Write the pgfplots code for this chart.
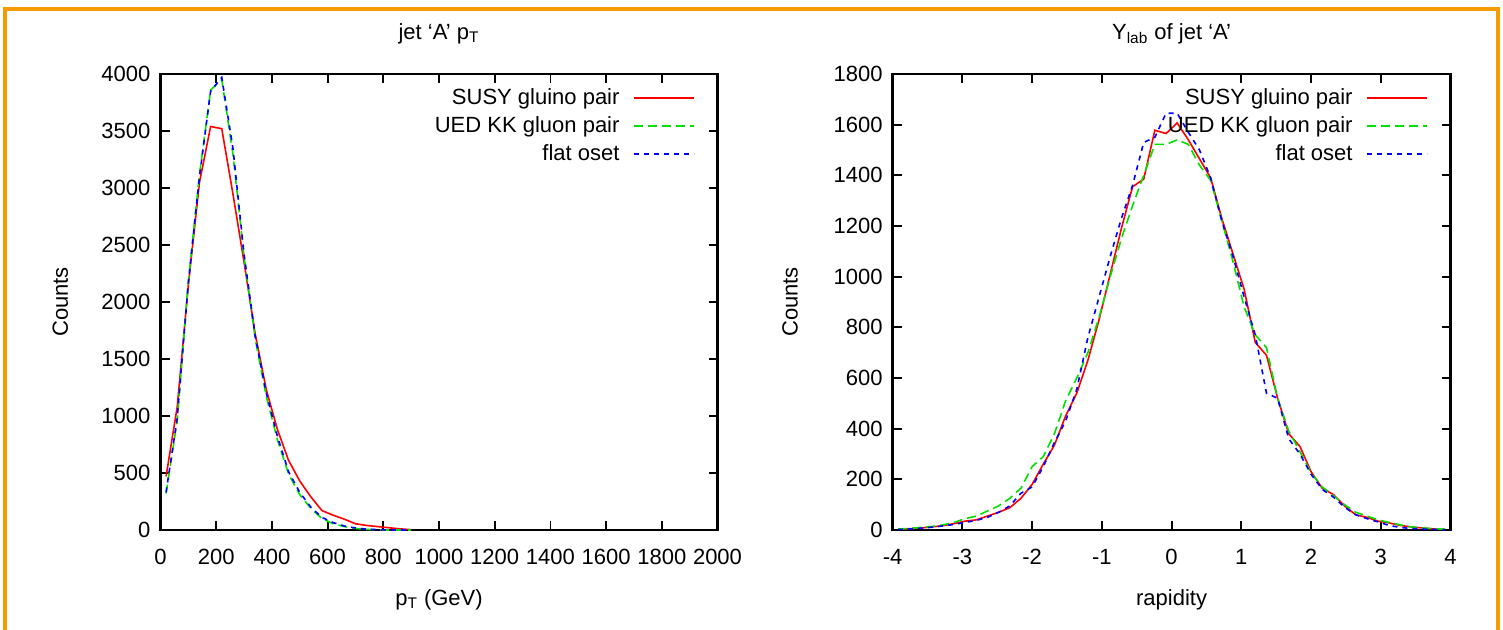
\documentclass[border=0pt]{standalone}
\usepackage{fontspec}
\setmainfont{Liberation Sans}
\usepackage{pgfplots}
\usepackage{pgfplotstable}
\pgfplotsset{compat=1.18}

\definecolor{gpred}{RGB}{255,0,0}
\definecolor{gpgreen}{RGB}{0,225,0}
\definecolor{gpblue}{RGB}{0,0,255}
\definecolor{frameorange}{RGB}{245,155,0}

% pT of jet A, 40 GeV bins
\pgfplotstableread{
pt   susy  ued   flat
20   470   320   330
60   1080  960   980
100  2150  2180  2170
140  3050  3120  3100
180  3540  3860  3850
220  3520  3950  3970
260  2950  3300  3350
300  2350  2400  2420
340  1720  1680  1700
380  1230  1170  1200
420  880   790   820
460  610   490   510
500  430   310   330
540  290   190   200
580  170   100   110
620  130   55    65
660  95    30    35
700  55    14    18
740  40    6     8
780  30    2     3
820  20    0     1
860  10    0     0
900  3     0     0
}\pttable

% rapidity of jet A
\pgfplotstableread{
y      susy  ued   flat
-3.92  3     4     2
-3.76  5     6     4
-3.60  8     10    7
-3.44  12    14    11
-3.28  17    20    16
-3.12  25    30    22
-2.96  35    45    30
-2.80  40    55    38
-2.64  55    75    50
-2.48  70    95    70
-2.32  88    125   95
-2.16  125   165   145
-2.00  180   250   170
-1.84  260   290   250
-1.68  335   380   345
-1.52  450   510   430
-1.36  540   600   555
-1.20  670   700   760
-1.04  830   840   920
-0.88  1010  1000  1080
-0.72  1190  1150  1230
-0.56  1355  1280  1360
-0.40  1385  1400  1530
-0.24  1578  1522  1550
-0.08  1565  1522  1645
0.08   1607  1540  1645
0.24   1540  1522  1570
0.40   1465  1440  1500
0.56   1390  1380  1390
0.72   1230  1220  1220
0.88   1090  1060  1080
1.04   950   880   920
1.20   740   770   770
1.36   690   720   540
1.52   520   520   520
1.68   380   390   360
1.84   330   310   300
2.00   230   225   220
2.16   165   170   160
2.32   140   135   130
2.48   95    100   90
2.64   60    70    60
2.80   50    55    45
2.96   35    40    32
3.12   28    30    18
3.28   18    20    10
3.44   12    12    6
3.60   8     8     4
3.76   4     5     2
3.92   2     3     1
}\raptable

\pgfplotsset{
  gnu/.style={
    scale only axis, anchor=south west,
    font=\fontsize{11}{13}\selectfont,
    /pgf/number format/assume math mode=true,
    /pgf/number format/set thousands separator={},
    scaled ticks=false,
    axis line style={line width=1.2pt},
    tick style={line width=0.9pt, black},
    major tick length=4.5pt,
    tick align=inside,
    minor tick num=0,
    xticklabel style={yshift=-6pt},
    yticklabel style={xshift=-1.5pt},
    title style={at={(axis description cs:0.5,1)}, anchor=center, yshift=14pt},
    xlabel style={at={(axis description cs:0.5,0)}, anchor=center, yshift=-35pt},
    legend style={draw=none, fill=none, at={(axis description cs:1,1)},
      anchor=north east, xshift=-8pt, yshift=-3pt,
      /tikz/column sep=5pt, row sep=0.5pt, font=\fontsize{11}{13}\selectfont},
    legend cell align=right,
    legend plot pos=right,
    legend image code/.code={\draw[##1] (0pt,0pt) -- (30pt,0pt);},
  },
  susy/.style={gpred, line width=0.8pt},
  ued/.style={gpgreen, line width=0.8pt, dash pattern=on 4.5pt off 2.5pt},
  flat/.style={gpblue, line width=0.8pt, dash pattern=on 2.5pt off 2.5pt},
}

\begin{document}
\begin{tikzpicture}
\useasboundingbox (0pt,0pt) rectangle (751.5pt,314.5pt);
\draw[frameorange, line width=1.8pt] (2.5pt,-10pt) -- (2.5pt,310pt) -- (749pt,310pt) -- (749pt,-10pt);

\begin{axis}[gnu,
  at={(80.25pt,49.5pt)}, width=278.5pt, height=228pt,
  xmin=0, xmax=2000, ymin=0, ymax=4000,
  xtick distance=200, ytick distance=500,
  title={jet `A' p\textsubscript{T}},
  xlabel={p\textsubscript{T} (GeV)},
  ylabel={Counts},
  ylabel style={at={(axis description cs:-0.18,0.5)}, anchor=center},
]
\addplot[susy] table[x=pt, y=susy] {\pttable};
\addlegendentry{SUSY gluino pair}
\addplot[ued] table[x=pt, y=ued] {\pttable};
\addlegendentry{UED KK gluon pair}
\addplot[flat] table[x=pt, y=flat] {\pttable};
\addlegendentry{flat oset}
\end{axis}

\begin{axis}[gnu,
  at={(446.3pt,49.5pt)}, width=279pt, height=228pt,
  xmin=-4, xmax=4, ymin=0, ymax=1800,
  xtick distance=1, ytick distance=200,
  title={Y\textsubscript{lab} of jet `A'},
  xlabel={rapidity},
  ylabel={Counts},
  ylabel style={at={(axis description cs:-0.184,0.5)}, anchor=center},
]
\addplot[susy] table[x=y, y=susy] {\raptable};
\addlegendentry{SUSY gluino pair}
\addplot[ued] table[x=y, y=ued] {\raptable};
\addlegendentry{UED KK gluon pair}
\addplot[flat] table[x=y, y=flat] {\raptable};
\addlegendentry{flat oset}
\end{axis}
\end{tikzpicture}
\end{document}
